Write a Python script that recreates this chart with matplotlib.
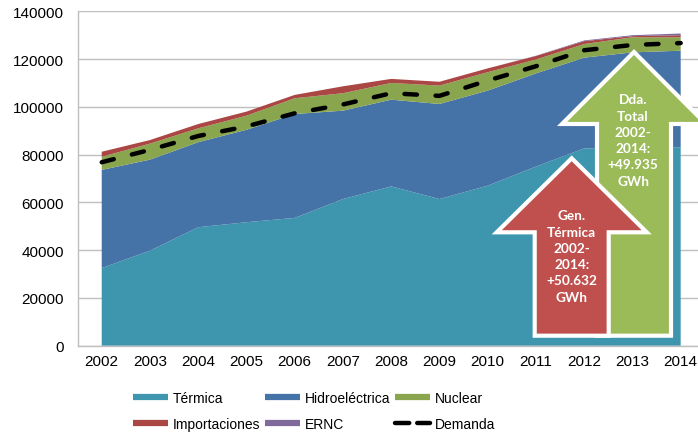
import matplotlib
matplotlib.use("Agg")
import matplotlib.pyplot as plt
from matplotlib.patches import Polygon
from matplotlib.lines import Line2D
import numpy as np

years = ["2002", "2003", "2004", "2005", "2006", "2007", "2008",
         "2009", "2010", "2011", "2012", "2013", "2014"]
termica = [32500, 39800, 49600, 51700, 53500, 61400, 66700, 61400, 67000, 75000, 82600, 83000, 83100]
hidro = [41100, 38100, 35600, 38700, 43500, 37000, 36300, 39800, 39800, 39000, 38000, 39800, 40400]
nuclear = [5500, 6700, 5800, 5900, 6600, 7300, 7000, 7700, 7700, 5800, 5700, 6300, 5600]
importaciones = [2100, 1500, 1800, 1700, 1400, 2900, 1700, 1600, 1600, 1500, 1200, 500, 900]
ernc = [0, 0, 0, 0, 0, 0, 0, 0, 0, 100, 300, 400, 700]
demanda = [76800, 82000, 87800, 91800, 97300, 101000, 105700, 104600, 111000, 117000, 123700, 125900, 126700]

series_names = ["Térmica", "Hidroeléctrica", "Nuclear", "Importaciones", "ERNC"]
colors = ["#3D96AE", "#4572A7", "#89A54E", "#AA4643", "#80699B"]

label_red = "Gen.\nTérmica\n2002-\n2014:\n+50.632\nGWh"
label_green = "Dda.\nTotal\n2002-\n2014:\n+49.935\nGWh"

plt.rcParams['font.family'] = ['Liberation Sans', 'DejaVu Sans']

W, H = 698, 435
fig = plt.figure(figsize=(W / 100, H / 100), dpi=100)
# axes extends slightly past the right edge (cropped like the reference)
ax = fig.add_axes([77.6 / W, 1 - 346.7 / H, (704.8 - 77.6) / W, (346.7 - 12.3) / H])

x = np.arange(len(years))
ax.stackplot(x, termica, hidro, nuclear, importaciones, ernc, colors=colors,
             linewidth=0)
ax.plot(x, demanda, color="black", lw=3.2, linestyle=(0, (2.8, 4.2)),
        dash_capstyle="round")

ax.set_xlim(-0.5, len(years) - 0.5)
ax.set_ylim(0, 140000)
ax.set_yticks(np.arange(0, 140001, 20000))
ax.set_xticks(x)
ax.set_xticklabels(years)
ax.tick_params(axis="y", length=0, pad=10, labelsize=11)
ax.tick_params(axis="x", length=0, pad=6, labelsize=11)
ax.grid(axis="y", color="#BFBFBF", lw=1)
ax.set_axisbelow(True)
for s in ["top", "right"]:
    ax.spines[s].set_visible(False)
for s in ["left", "bottom"]:
    ax.spines[s].set_color("#BFBFBF")
    ax.spines[s].set_linewidth(1)
ax.spines["bottom"].set_zorder(5)


def px(xp, yp):
    return (xp / W, 1 - yp / H)


def arrow(cx, tip_y, head_half, shaft_half, base_y, bottom_y, color):
    pts = [px(cx, tip_y), px(cx + head_half, base_y), px(cx + shaft_half, base_y),
           px(cx + shaft_half, bottom_y), px(cx - shaft_half, bottom_y),
           px(cx - shaft_half, base_y), px(cx - head_half, base_y)]
    shadow = Polygon([(a + 1.5 / W, b - 1.5 / H) for a, b in pts], closed=True,
                     transform=fig.transFigure, facecolor="#00000030",
                     edgecolor="none", zorder=9)
    fig.add_artist(shadow)
    p = Polygon(pts, closed=True, transform=fig.transFigure, facecolor=color,
                edgecolor="white", lw=3, joinstyle="miter", zorder=10)
    fig.add_artist(p)


arrow(634, 53, 72, 37, 125, 336.7, "#9BBB59")
arrow(571.7, 159.3, 75, 37, 233.3, 336.7, "#C0504D")

fig.text(*px(633, 141), label_green, ha="center", va="center", color="white",
         fontsize=9.8, fontweight="bold", family=["Lato", "DejaVu Sans"],
         linespacing=1.42, zorder=11)
fig.text(*px(571.7, 257), label_red, ha="center", va="center", color="white",
         fontsize=9.8, fontweight="bold", family=["Lato", "DejaVu Sans"],
         linespacing=1.42, zorder=11)

handles = [Line2D([], [], color=c, lw=4.5, solid_capstyle="butt") for c in colors]
handles.append(Line2D([], [], color="black", lw=3.2, linestyle=(0, (3.2, 1.8)),
                      dash_capstyle="round"))
labels = series_names + ["Demanda"]
# rows: Térmica, Hidro, Nuclear / Importaciones, ERNC, Demanda (column-major fill)
order = [0, 3, 1, 4, 2, 5]
leg = fig.legend([handles[i] for i in order], [labels[i] for i in order],
                 ncol=3, loc="center", bbox_to_anchor=(314 / W, 1 - 412 / H),
                 frameon=False, fontsize=10, handlelength=2.5, handletextpad=0.35,
                 columnspacing=0.35, labelspacing=0.85)

fig.savefig("out.png", dpi=100)
